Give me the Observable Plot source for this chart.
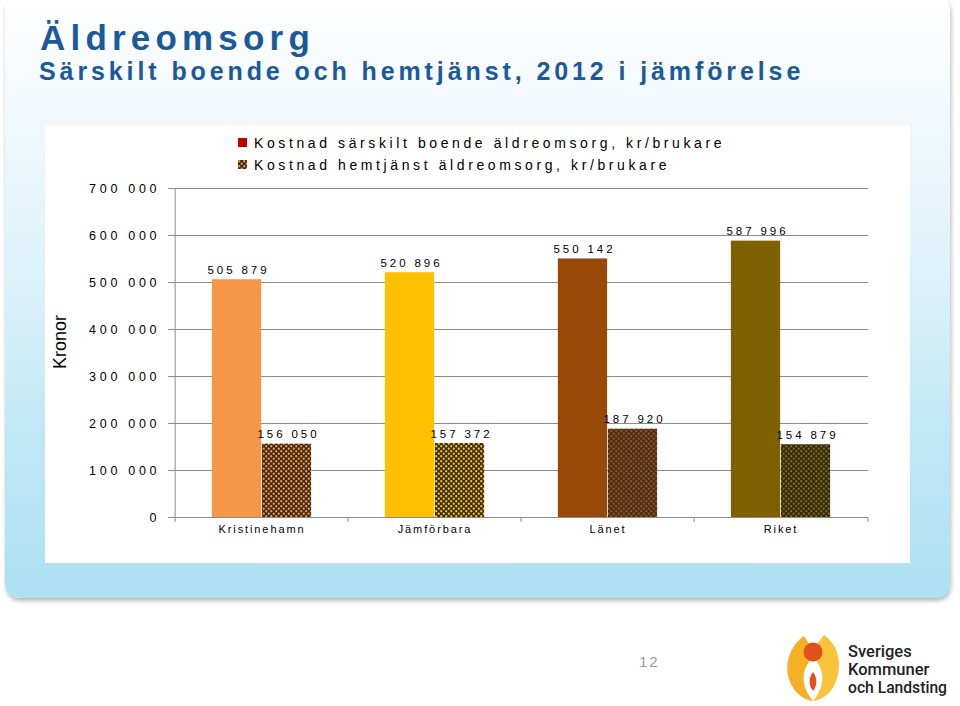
<!DOCTYPE html>
<html><head><meta charset="utf-8">
<script src="https://cdn.jsdelivr.net/npm/d3@7"></script>
<script src="https://cdn.jsdelivr.net/npm/@observablehq/plot@0.6"></script>
<style>
body{margin:0;background:#fff;}
#page{position:relative;width:960px;height:706px;overflow:hidden;font-family:"Liberation Sans",Arial,sans-serif;}
#panel{position:absolute;left:5px;top:-4px;width:945px;height:602px;border-radius:14px;
 background:linear-gradient(#ffffff 0px,#f4fafd 100px,#dcf1f9 280px,#bfe7f6 450px,#ace0f3 602px);
 box-shadow:1px 3px 4px rgba(0,0,0,0.28);}
#title{position:absolute;left:40px;top:20px;font-size:35px;line-height:1;font-weight:bold;color:#1b5a9a;letter-spacing:5.2px;white-space:nowrap;}
#subtitle{position:absolute;left:39px;top:59px;font-size:25px;line-height:1;font-weight:bold;color:#1b5a9a;letter-spacing:3.9px;white-space:nowrap;}
#chart{position:absolute;left:45px;top:125px;}
.leg{position:absolute;left:254px;font-size:14px;line-height:1;letter-spacing:3.6px;white-space:nowrap;color:#000;}
.sw{position:absolute;left:238px;width:9px;height:9px;}
#pnum{position:absolute;left:639px;top:654px;font-size:15px;line-height:1;color:#999;letter-spacing:2px;}
#logo{position:absolute;left:780px;top:628px;}
#chart g[aria-label="y-axis tick label"] text{letter-spacing:3.7px;}
#chart g[aria-label="x-axis tick label"] text{letter-spacing:1.9px;}
#chart g[aria-label="text"] text{letter-spacing:2.9px;}
</style>
</head><body>
<svg width="0" height="0" style="position:absolute">
<defs>
<pattern id="pat0" width="5" height="5" patternUnits="userSpaceOnUse">
<rect width="5" height="5" fill="#3e2812"/>
<circle cx="1.25" cy="1.25" r="1.15" fill="#f39a4c"/>
<circle cx="3.75" cy="3.75" r="1.15" fill="#f39a4c"/>
</pattern>
<pattern id="pat1" width="5" height="5" patternUnits="userSpaceOnUse">
<rect width="5" height="5" fill="#362b0e"/>
<circle cx="1.25" cy="1.25" r="1.15" fill="#f8c21c"/>
<circle cx="3.75" cy="3.75" r="1.15" fill="#f8c21c"/>
</pattern>
<pattern id="pat2" width="5" height="5" patternUnits="userSpaceOnUse">
<rect width="5" height="5" fill="#4a3018"/>
<circle cx="1.25" cy="1.25" r="1.15" fill="#93531c"/>
<circle cx="3.75" cy="3.75" r="1.15" fill="#93531c"/>
</pattern>
<pattern id="pat3" width="5" height="5" patternUnits="userSpaceOnUse">
<rect width="5" height="5" fill="#33290e"/>
<circle cx="1.25" cy="1.25" r="1.15" fill="#7f6a16"/>
<circle cx="3.75" cy="3.75" r="1.15" fill="#7f6a16"/>
</pattern>
</defs>
</svg>
<div id="page">
<div id="panel"></div>
<div id="title">Äldreomsorg</div>
<div id="subtitle">Särskilt boende och hemtjänst, 2012 i jämförelse</div>
<div id="chart"></div>
<div class="sw" style="top:138px;background:#C00000"></div>
<svg class="sw" style="top:160px" width="9" height="9"><rect width="9" height="9" fill="url(#pat0)"/></svg>
<div class="leg" id="leg1" style="top:136px"></div>
<div class="leg" id="leg2" style="top:158px"></div>
<div id="pnum">12</div>
<svg id="logo" width="175" height="76" viewBox="780 628 175 76">
<path d="M804,636 C787,648 783,670 792,686 C797,695 805,700 813,701 C807,694 802,684 804,673 C806,664 812,660 812,650 C810,644 806,640 804,636 Z" fill="#f5b025"/>
<path d="M824,635 C840,646 843,668 834,686 C829,695 821,700 813,701 C819,694 824,684 822,673 C820,664 814,660 814,650 C816,644 821,639 824,635 Z" fill="#f9c43c"/>
<circle cx="813" cy="652" r="9.5" fill="#e3501c"/>
<path d="M813,672 C808,679 809,686 813,691 C817,686 818,679 813,672 Z" fill="#e3501c"/>
<text x="848" y="657" font-family="Roboto, sans-serif" font-weight="500" font-size="16.5" fill="#222">Sveriges</text>
<text x="848" y="675" font-family="Roboto, sans-serif" font-weight="500" font-size="16.5" fill="#222">Kommuner</text>
<text x="848" y="693" font-family="Roboto, sans-serif" font-weight="500" font-size="16.5" fill="#222" textLength="99" lengthAdjust="spacingAndGlyphs">och Landsting</text>
</svg>
</div>
<script>
const categories = ["Kristinehamn", "Jämförbara", "Länet", "Riket"];
const boende = [505879, 520896, 550142, 587996];
const hemtjanst = [156050, 157372, 187920, 154879];
const boendeColors = ["#F79646", "#FFC000", "#984807", "#7F6000"];
const hemtjanstFills = ["url(#pat0)", "url(#pat1)", "url(#pat2)", "url(#pat3)"];
const seriesNames = ["Kostnad särskilt boende äldreomsorg, kr/brukare", "Kostnad hemtjänst äldreomsorg, kr/brukare"];
const yTicks = [0, 100000, 200000, 300000, 400000, 500000, 600000, 700000];
const yLabel = "Kronor";

document.getElementById("leg1").textContent = seriesNames[0];
document.getElementById("leg2").textContent = seriesNames[1];

const data = categories.map((c, i) => ({cat: c, boende: boende[i], hem: hemtjanst[i], c1: boendeColors[i], c2: hemtjanstFills[i]}));
const fmt = v => d3.format(",")(v).replace(/,/g, " ");

const W = 865, H = 438, mL = 128, mR = 42, mT = 63, mB = 46;
const bw = (W - mL - mR) / categories.length;
const barW = 50;
const grid = "#8c8c8c";

const chart = Plot.plot({
  width: W, height: H, marginLeft: mL, marginRight: mR, marginTop: mT, marginBottom: mB,
  style: {fontFamily: '"Liberation Sans", Arial, sans-serif', background: "#fff", color: "#000", overflow: "visible"},
  x: {type: "band", domain: categories, padding: 0, label: null},
  y: {domain: [0, 700000], label: null},
  color: {type: "identity"},
  marks: [
    Plot.gridY(yTicks, {stroke: grid, strokeOpacity: 1}),
    Plot.axisY(yTicks, {tickSize: 5, tickPadding: 8.3, tickFormat: fmt, fontSize: 12.5, stroke: grid, label: null}),
    Plot.axisY([], {label: yLabel, labelArrow: "none", labelAnchor: "center", labelOffset: 120, fontSize: 18, tickSize: 0}),
    Plot.barY(data, {x: "cat", y: "boende", fill: "c1", insetLeft: bw / 2 - barW, insetRight: bw / 2}),
    Plot.barY(data, {x: "cat", y: "hem", fill: "c2", insetLeft: bw / 2, insetRight: bw / 2 - barW}),
    Plot.ruleY([0], {stroke: grid}),
    Plot.ruleX(categories.slice(0, 1), {x: d => d, y1: 0, y2: 700000, dx: -bw / 2, stroke: grid}),
    Plot.axisX({tickSize: 5, tickFormat: () => "", dx: -bw / 2, stroke: grid, label: null}),
    Plot.axisX(categories.slice(-1), {tickSize: 5, tickFormat: () => "", dx: bw / 2, stroke: grid, label: null}),
    Plot.axisX({tickSize: 0, tickPadding: 8, fontSize: 11, label: null}),
    Plot.text(data, {x: "cat", y: "boende", text: d => fmt(d.boende), dx: -barW / 2 + 1.5, dy: -6, lineAnchor: "bottom", fontSize: 11.5}),
    Plot.text(data, {x: "cat", y: "hem", text: d => fmt(d.hem), dx: barW / 2 + 1.5, dy: -6, lineAnchor: "bottom", fontSize: 11.5})
  ]
});
const lbl = chart.querySelector('g[aria-label="y-axis label"]');
if (lbl) lbl.setAttribute("transform", (lbl.getAttribute("transform") || "") + " translate(0,-11)");
document.getElementById("chart").appendChild(chart);
</script>
</body></html>
